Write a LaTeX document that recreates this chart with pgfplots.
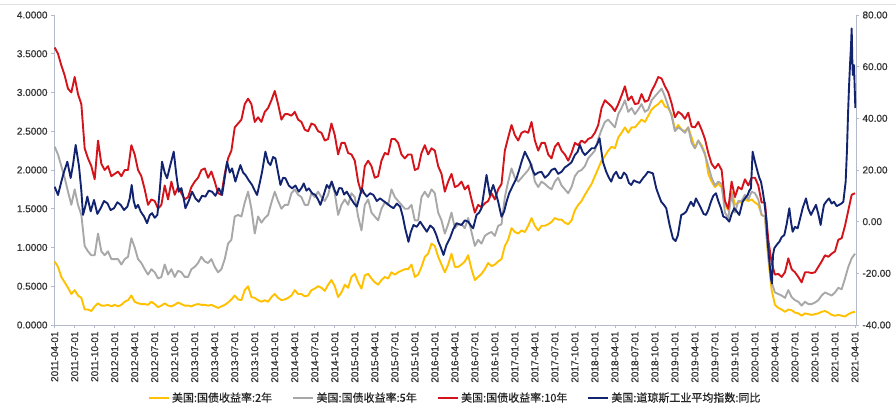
\documentclass[border=0pt]{standalone}
\usepackage{pgfplots}
\pgfplotsset{compat=1.18}
\usepackage{pgfplotstable}
\usepackage{fontspec}
\setmainfont{Liberation Sans}
\newfontfamily\tickfont{Liberation Sans}[FakeBold=0.7]
\newfontfamily\cjk{Noto Sans CJK SC}[FakeBold=0.6]

\definecolor{yel}{RGB}{255,192,0}
\definecolor{gry}{RGB}{168,168,168}
\definecolor{rd}{RGB}{212,20,26}
\definecolor{nvy}{RGB}{18,36,112}
\definecolor{axgray}{RGB}{178,186,204}

% Treasury yields, one row per half month from 2011-04-01 (k = 0) to 2021-04-01 (k = 240)
\pgfplotstableread{
k y2 y5 y10
0 0.82 2.30 3.58
1 0.75 2.20 3.50
2 0.62 2.05 3.35
3 0.55 1.90 3.22
4 0.48 1.72 3.05
5 0.40 1.55 3.00
6 0.45 1.75 3.20
7 0.38 1.55 2.98
8 0.35 1.42 2.85
9 0.20 1.02 2.28
10 0.20 0.95 2.15
11 0.18 0.90 2.05
12 0.24 0.90 1.88
13 0.28 1.18 2.38
14 0.25 0.95 2.08
15 0.25 0.90 2.00
16 0.26 0.95 2.05
17 0.24 0.85 1.92
18 0.26 0.85 1.95
19 0.24 0.85 1.98
20 0.26 0.78 1.92
21 0.30 0.85 2.00
22 0.32 0.88 2.00
23 0.38 1.12 2.32
24 0.30 1.00 2.20
25 0.28 0.85 2.00
26 0.27 0.80 1.92
27 0.27 0.72 1.75
28 0.26 0.65 1.55
29 0.30 0.72 1.62
30 0.27 0.68 1.60
31 0.23 0.60 1.50
32 0.25 0.62 1.55
33 0.28 0.78 1.80
34 0.25 0.65 1.62
35 0.24 0.72 1.85
36 0.26 0.62 1.68
37 0.29 0.70 1.78
38 0.27 0.68 1.70
39 0.25 0.62 1.62
40 0.25 0.62 1.65
41 0.24 0.72 1.78
42 0.26 0.75 1.85
43 0.27 0.80 1.90
44 0.26 0.88 2.00
45 0.26 0.82 2.02
46 0.25 0.80 1.90
47 0.26 0.85 1.98
48 0.24 0.75 1.85
49 0.22 0.68 1.70
50 0.24 0.72 1.68
51 0.26 0.85 1.95
52 0.29 1.05 2.15
53 0.33 1.10 2.25
54 0.38 1.40 2.55
55 0.33 1.42 2.60
56 0.32 1.40 2.65
57 0.45 1.58 2.85
58 0.50 1.72 2.92
59 0.36 1.50 2.85
60 0.35 1.18 2.62
61 0.32 1.40 2.68
62 0.30 1.32 2.62
63 0.32 1.38 2.75
64 0.30 1.42 2.80
65 0.36 1.58 2.90
66 0.40 1.72 3.02
67 0.35 1.60 2.85
68 0.32 1.50 2.65
69 0.33 1.55 2.72
70 0.35 1.55 2.72
71 0.38 1.70 2.70
72 0.45 1.75 2.75
73 0.40 1.68 2.65
74 0.40 1.65 2.62
75 0.37 1.55 2.52
76 0.38 1.55 2.50
77 0.45 1.70 2.60
78 0.47 1.65 2.58
79 0.50 1.72 2.50
80 0.48 1.65 2.48
81 0.44 1.60 2.38
82 0.52 1.68 2.40
83 0.58 1.85 2.60
84 0.50 1.70 2.45
85 0.36 1.42 2.20
86 0.42 1.55 2.35
87 0.52 1.62 2.35
88 0.48 1.55 2.22
89 0.62 1.70 2.20
90 0.66 1.65 2.12
91 0.55 1.40 1.85
92 0.47 1.22 1.70
93 0.64 1.55 2.05
94 0.66 1.62 2.12
95 0.60 1.45 2.05
96 0.55 1.40 1.90
97 0.52 1.35 1.92
98 0.58 1.50 2.12
99 0.62 1.58 2.22
100 0.60 1.55 2.20
101 0.68 1.75 2.40
102 0.65 1.65 2.40
103 0.68 1.60 2.35
104 0.70 1.55 2.20
105 0.72 1.50 2.15
106 0.72 1.50 2.20
107 0.78 1.55 2.20
108 0.62 1.35 2.00
109 0.65 1.35 2.02
110 0.75 1.65 2.22
111 0.88 1.72 2.32
112 0.92 1.65 2.20
113 1.05 1.75 2.28
114 1.02 1.70 2.25
115 0.88 1.45 2.05
116 0.78 1.35 1.95
117 0.68 1.18 1.72
118 0.78 1.30 1.85
119 0.92 1.45 1.95
120 0.75 1.25 1.78
121 0.75 1.30 1.80
122 0.78 1.30 1.85
123 0.82 1.25 1.75
124 0.90 1.38 1.80
125 0.72 1.20 1.62
126 0.58 1.02 1.45
127 0.62 1.10 1.55
128 0.66 1.05 1.52
129 0.72 1.15 1.57
130 0.80 1.18 1.60
131 0.76 1.20 1.70
132 0.78 1.15 1.62
133 0.82 1.28 1.75
134 0.85 1.30 1.82
135 1.02 1.65 2.25
136 1.10 1.85 2.42
137 1.25 2.02 2.58
138 1.20 1.90 2.45
139 1.18 1.85 2.38
140 1.22 1.90 2.48
141 1.20 1.95 2.50
142 1.28 2.00 2.48
143 1.38 2.08 2.62
144 1.28 1.85 2.38
145 1.22 1.78 2.25
146 1.28 1.85 2.35
147 1.28 1.82 2.35
148 1.30 1.78 2.20
149 1.33 1.75 2.15
150 1.38 1.85 2.30
151 1.36 1.90 2.35
152 1.36 1.80 2.25
153 1.32 1.75 2.20
154 1.30 1.70 2.12
155 1.35 1.78 2.22
156 1.48 1.92 2.35
157 1.55 1.98 2.32
158 1.60 2.00 2.38
159 1.68 2.05 2.35
160 1.75 2.15 2.40
161 1.82 2.20 2.42
162 1.92 2.25 2.48
163 2.02 2.40 2.58
164 2.12 2.52 2.80
165 2.18 2.62 2.90
166 2.25 2.65 2.86
167 2.30 2.60 2.82
168 2.28 2.55 2.76
169 2.42 2.72 2.85
170 2.48 2.80 2.96
171 2.55 2.90 3.08
172 2.48 2.75 2.90
173 2.55 2.80 2.95
174 2.55 2.72 2.85
175 2.60 2.78 2.86
176 2.65 2.85 2.98
177 2.62 2.75 2.88
178 2.70 2.78 2.90
179 2.78 2.90 3.02
180 2.82 2.95 3.10
181 2.85 3.00 3.20
182 2.90 3.05 3.18
183 2.82 2.95 3.08
184 2.80 2.82 3.00
185 2.72 2.70 2.86
186 2.52 2.50 2.68
187 2.58 2.55 2.75
188 2.52 2.52 2.72
189 2.50 2.48 2.66
190 2.55 2.55 2.74
191 2.42 2.35 2.56
192 2.28 2.28 2.55
193 2.38 2.38 2.62
194 2.32 2.30 2.52
195 2.22 2.20 2.40
196 1.95 2.05 2.22
197 1.85 1.90 2.08
198 1.78 1.80 2.02
199 1.82 1.85 2.08
200 1.78 1.82 2.00
201 1.55 1.45 1.60
202 1.48 1.38 1.50
203 1.72 1.70 1.85
204 1.55 1.45 1.65
205 1.58 1.60 1.78
206 1.58 1.60 1.75
207 1.62 1.68 1.88
208 1.60 1.62 1.80
209 1.62 1.72 1.90
210 1.58 1.70 1.90
211 1.55 1.62 1.80
212 1.42 1.42 1.58
213 1.40 1.40 1.58
214 0.85 0.90 1.10
215 0.45 0.55 0.80
216 0.26 0.42 0.65
217 0.22 0.40 0.66
218 0.20 0.38 0.62
219 0.17 0.35 0.68
220 0.20 0.45 0.86
221 0.19 0.36 0.72
222 0.16 0.32 0.68
223 0.15 0.30 0.62
224 0.12 0.25 0.55
225 0.15 0.30 0.68
226 0.14 0.27 0.68
227 0.13 0.27 0.67
228 0.14 0.29 0.68
229 0.15 0.32 0.75
230 0.17 0.38 0.82
231 0.18 0.42 0.90
232 0.16 0.40 0.88
233 0.13 0.38 0.92
234 0.12 0.42 0.95
235 0.13 0.48 1.10
236 0.12 0.46 1.12
237 0.11 0.60 1.28
238 0.14 0.75 1.48
239 0.16 0.86 1.68
240 0.17 0.92 1.70
}\yields

% Dow Jones Industrial Average, year-on-year change in percent (same k scale)
\pgfplotstableread{
k dow
0 13.5
1 10.3
1.9 15
2.8 19.3
3.8 23.2
4.8 16.9
5.5 22
6.3 29.7
7.3 21.4
8.0 12
8.5 2.6
9.2 6
9.8 9.7
10.8 4
11.8 8.4
12.8 3
13.8 5.2
14.8 8
15.8 7.1
16.8 4.5
17.8 5.2
18.8 7.5
19.8 6.5
20.8 4.5
21.8 5.8
22.5 9
23.1 14.2
23.7 8
24.3 5.2
25.0 6.5
25.8 3.9
26.8 2
27.7 -0.6
28.5 2.5
29.2 3.3
30.0 1.5
30.8 2.6
31.5 12
32.2 23.2
33.0 19
33.7 16.8
34.7 22
35.7 27.1
36.5 18
37.2 11.6
38.0 13
38.7 9.0
39.2 5.2
40.2 8
41.2 11.6
42.2 9
43.2 7.7
44.2 10
45.2 9.7
46.2 12
47.2 11.6
48.2 10
49.2 12.9
50.2 10.3
51.0 17
51.7 23.2
52.5 19
53.2 20.6
54.2 15.5
55.0 19
55.7 21.9
56.5 19
57.2 18.1
58.2 16
59.2 14.2
60.0 12
60.7 10.3
61.5 15
62.2 19.3
63.2 27.1
64.0 23
64.7 21.9
65.5 25
66.2 24.5
67.0 19
67.7 14.2
68.5 17
69.2 16.8
70.2 14
71.2 12.9
72.2 14
73.2 11.6
74.0 13
74.7 14.8
75.5 12
76.2 12.9
77.2 11
78.2 10.3
79.0 8.5
79.7 6.5
80.6 10
81.6 14.2
82.3 13
83.1 15.5
84.0 12
84.6 10.3
85.3 13
86.1 12.9
86.8 10.5
87.6 11.6
88.3 10
89.1 8.4
89.8 7
90.6 5.8
91.3 9
92.1 12.9
92.8 11
93.6 9.7
94.6 11
95.6 10.3
96.6 8
97.6 9.0
98.6 8
99.6 7.1
100.6 6
101.6 5.2
102.6 7
103.6 5.8
104.4 2
105.1 -2.6
106.1 -7.8
106.8 -4
107.6 -1.3
108.6 -2
109.6 0
110.6 -2
111.6 -3.9
112.6 -1.5
113.6 -2.6
114.4 -5
115.1 -7.8
115.8 -10
116.6 -12.9
117.5 -9
118.5 -6.5
119.5 -3
120.5 -0.6
121.3 -1
122 -1.3
123 0.5
124 0
124.8 -1.5
125.5 -2.6
126.5 2.6
127.3 3.5
128 5.2
128.8 12
129.5 18.1
130.5 10.3
131.5 14.2
132.3 11
133 7.7
134 1.9
134.8 4
135.5 7.7
136.3 11
137 12.9
137.8 15
138.5 16.8
139.3 20
140 23.2
141 27.1
141.8 25
142.5 23.2
143.3 20
144 18.1
145 19
146 19.3
147 17
148 18.1
149 20
150 20.6
151 18.5
152 19.3
153 21
154 21.9
155 23
156 25.8
156.8 27
157.5 29.7
158.3 27
159 25.8
160 27
161 28.4
161.9 28.4
162.7 30
163.4 32.3
164.4 23.2
165.4 19.3
166.2 17
166.9 15.5
167.6 18
168.4 19.3
169.2 17
169.9 16.8
170.7 19
171.4 18.1
172.2 15
172.9 14.2
173.7 16
174.4 15.5
175.4 15
176.4 16.8
177.2 18
177.9 19.3
178.7 19
179.4 18.7
180.4 12.9
181.2 10
181.9 7.7
182.7 6.5
183.4 5.2
184.4 -1.3
185.4 -6.5
186.2 -7.5
186.9 -5.2
187.9 2.6
188.6 3
189.4 3.9
190.1 6
190.8 7.7
191.6 6
192.3 9.0
193.1 7
193.8 5.2
194.6 3
195.3 2.6
196 4.5
196.8 7.7
197.5 10
198.3 11.0
199 8
199.8 5.2
200.5 2
201.3 1.5
202.3 0
203 3
203.8 5.2
204.5 4
205.3 2.6
206.3 7.7
207 9
207.8 10.3
208.3 12
208.8 12.9
209.3 27.1
210 23.2
210.8 19.3
211.3 17
211.8 15.5
212.3 12
212.8 7.7
213.3 2
213.8 -7.8
214.3 -15
214.8 -22
215.1 -24
215.4 -13
215.8 -10.3
216.5 -9
217.3 -7.8
218 -6
218.8 -5.2
219.5 -1
220.3 5.2
220.8 0
221.3 -3.9
222 -2
222.8 -2.6
223.5 1
224.3 5.2
225.3 9.0
226 5
226.8 2.6
227.5 4.5
228.3 6.5
229 3
229.7 -1.3
230.2 3
230.7 6.5
231.5 8
232.2 9.0
233 7
233.7 7.7
234.5 6
235.2 6.5
235.9 7
236.5 7.7
237.2 15.5
237.6 28
237.9 41.3
238.2 52
238.5 60.6
238.8 68
239.0 74.8
239.2 62
239.35 56.8
239.5 59
239.7 60.6
239.9 52
240.1 44.0
}\dow

\pgfplotsset{
  base/.style={
    scale only axis, width=802bp, height=310bp,
    xmin=-0.2, xmax=240.3,
    tick align=outside, major tick length=3bp,
    tick style={axgray, line width=0.6pt},
    axis line style={axgray, line width=0.9pt},
    ticklabel style={font=\tickfont\fontsize{10bp}{12bp}\selectfont, text=black!80},
    /pgf/number format/assume math mode=true,
  },
  ser/.style={line width=1.9pt, line join=round},
}

\begin{document}
\begin{tikzpicture}
\begin{axis}[base,
  ymin=0, ymax=4,
  axis x line*=bottom, axis y line*=left,
  ytick={0,0.5,1,1.5,2,2.5,3,3.5,4},
  yticklabel style={/pgf/number format/.cd, fixed, fixed zerofill, precision=4},
  xtick={0,6,...,240},
  xticklabels={2011-04-01,2011-07-01,2011-10-01,2012-01-01,2012-04-01,2012-07-01,2012-10-01,
    2013-01-01,2013-04-01,2013-07-01,2013-10-01,2014-01-01,2014-04-01,2014-07-01,2014-10-01,
    2015-01-01,2015-04-01,2015-07-01,2015-10-01,2016-01-01,2016-04-01,2016-07-01,2016-10-01,
    2017-01-01,2017-04-01,2017-07-01,2017-10-01,2018-01-01,2018-04-01,2018-07-01,2018-10-01,
    2019-01-01,2019-04-01,2019-07-01,2019-10-01,2020-01-01,2020-04-01,2020-07-01,2020-10-01,
    2021-01-01,2021-04-01},
  xticklabel style={rotate=90, anchor=east},
]
\addplot[ser, yel] table[x=k, y=y2] {\yields};
\addplot[ser, gry] table[x=k, y=y5] {\yields};
\addplot[ser, rd] table[x=k, y=y10] {\yields};
\coordinate (SW) at (rel axis cs:0,0);
\coordinate (NW) at (rel axis cs:0,1);
\coordinate (NE) at (rel axis cs:1,1);
\end{axis}

\begin{axis}[base,
  ymin=-40, ymax=80,
  axis y line*=right, axis x line=none,
  ytick={-40,-20,0,20,40,60,80},
  yticklabel style={/pgf/number format/.cd, fixed, fixed zerofill, precision=2},
  legend style={at={(0.5,-0.235)}, anchor=center, draw=none, fill=none,
    legend columns=4, font=\cjk\fontsize{11bp}{13bp}\selectfont, text=black!85,
    /tikz/every even column/.append style={column sep=18bp}},
  legend image code/.code={\draw[#1] (0bp,0bp) -- (20bp,0bp);},
]
\addlegendimage{yel, line width=2.4pt}
\addlegendentry{美国:国债收益率:2年}
\addlegendimage{gry, line width=2.4pt}
\addlegendentry{美国:国债收益率:5年}
\addlegendimage{rd, line width=2.4pt}
\addlegendentry{美国:国债收益率:10年}
\addplot[ser, nvy] table[x=k, y=dow] {\dow};
\addlegendentry{美国:道琼斯工业平均指数:同比}
\end{axis}

\draw[black!12, line width=0.8pt] ([xshift=-54bp, yshift=11bp]NW) -- ([xshift=40bp, yshift=11bp]NE);
\pgfresetboundingbox
\path[use as bounding box] ([xshift=-54bp, yshift=-81bp]SW) rectangle ([xshift=40bp, yshift=15bp]NE);
\end{tikzpicture}
\end{document}
